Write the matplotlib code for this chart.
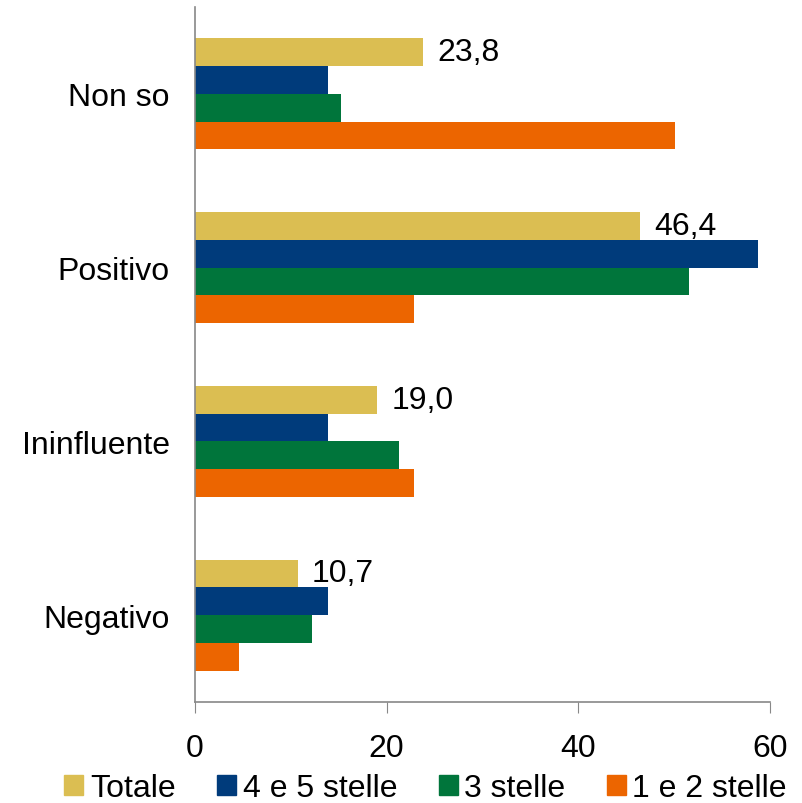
import numpy as np
import matplotlib.pyplot as plt
from matplotlib.patches import Patch

plt.rcParams['font.family'] = ['Liberation Sans', 'DejaVu Sans']

categories = ["Negativo", "Ininfluente", "Positivo", "Non so"]
series_names = ["Totale", "4 e 5 stelle", "3 stelle", "1 e 2 stelle"]
totale = [10.7, 19.0, 46.4, 23.8]
stelle_4_5 = [13.9, 13.9, 58.8, 13.9]
stelle_3 = [12.2, 21.3, 51.6, 15.2]
stelle_1_2 = [4.6, 22.9, 22.9, 50.1]
colors = ["#DBBE52", "#003B7B", "#00753B", "#EC6500"]

series = [totale, stelle_4_5, stelle_3, stelle_1_2]

fig = plt.figure(figsize=(8.03, 8.04), dpi=100)
ax = fig.add_axes([195/803, 1 - 703/804, 575/803, 695/804])

y = np.arange(len(categories))
h = 0.16
for i, (vals, col) in enumerate(zip(series, colors)):
    # top bar is Totale, then downward
    offs = (1.5 - i) * h
    ax.barh(y + offs, vals, height=h, color=col, label=series_names[i])

# value labels on Totale only
for yi, v in zip(y, totale):
    ax.text(v + 1.5, yi + 1.5 * h, f"{v:.1f}".replace(".", ","),
            va="center", ha="left", fontsize=23)

ax.set_xlim(0, 60)
ax.set_ylim(-0.5, 3.5)
ax.set_xticks([0, 20, 40, 60])
ax.set_yticks(y)
ax.set_yticklabels(categories)
ax.tick_params(axis="x", direction="out", length=8, color="#888888",
               labelsize=23, pad=14)
ax.tick_params(axis="y", length=0, labelsize=23, pad=18)
for s in ["top", "right"]:
    ax.spines[s].set_visible(False)
for s in ["left", "bottom"]:
    ax.spines[s].set_color("#888888")
    ax.spines[s].set_linewidth(1.2)

handles = [Patch(color=c) for c in colors]
fig.legend(handles, series_names, loc="lower center", ncol=4, frameon=False,
           fontsize=23, bbox_to_anchor=(0.53, -0.036), handlelength=0.6,
           handleheight=0.6, handletextpad=0.2, columnspacing=1.3)

fig.savefig("out.png", dpi=100)
